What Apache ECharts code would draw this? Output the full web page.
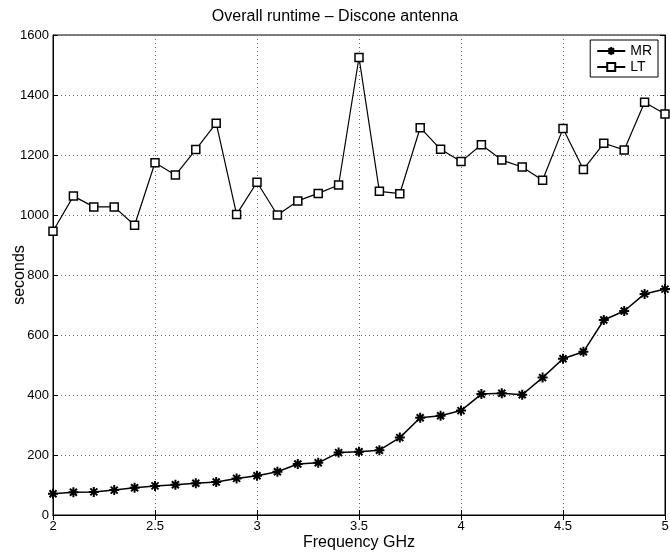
<!DOCTYPE html>
<html>
<head>
<meta charset="utf-8">
<script src="https://cdn.jsdelivr.net/npm/echarts@6/dist/echarts.min.js"></script>
<style>html,body{margin:0;padding:0;background:#fff;}#c{width:670px;height:554px;}</style>
</head>
<body>
<div id="c"></div>
<script>
var freq = [2.0,2.1,2.2,2.3,2.4,2.5,2.6,2.7,2.8,2.9,3.0,3.1,3.2,3.3,3.4,3.5,3.6,3.7,3.8,3.9,4.0,4.1,4.2,4.3,4.4,4.5,4.6,4.7,4.8,4.9,5.0];
var mrValues = [71,76,77,83,91,97,101,106,110,122,131,144,170,174,208,211,216,258,324,331,348,403,406,401,458,521,544,650,680,737,753];
var ltValues = [946,1063,1027,1027,966,1174,1133,1218,1306,1002,1109,1000,1047,1072,1100,1525,1079,1071,1291,1219,1178,1234,1183,1160,1116,1288,1152,1239,1217,1376,1337];
var seriesNames = ['MR','LT'];
var titleText = 'Overall runtime \u2013 Discone antenna';
var xName = 'Frequency GHz';
var yName = 'seconds';

function pairs(v){ return freq.map(function(f,i){ return [f, v[i]]; }); }
var asterisk = 'path://M5,0L5,10M0,5L10,5M1.5,1.5L8.5,8.5M1.5,8.5L8.5,1.5';
var font = 'Liberation Sans';
var split = {show:true, lineStyle:{color:'#666', type:[1,3], width:1}};
function plain(v){ return String(v); }

var chart = echarts.init(document.getElementById('c'), null, {renderer:'canvas'});
chart.setOption({
  animation:false,
  backgroundColor:'#fff',
  title:{text:titleText, left:'center', top:4, textStyle:{fontFamily:font, fontSize:16, fontWeight:'normal', color:'#000'}},
  grid:{left:53, right:5, top:35, bottom:39, show:true, borderColor:'#000', borderWidth:1, backgroundColor:'#fff', containLabel:false, outerBoundsMode:'none'},
  legend:{
    orient:'vertical', right:12, top:40, data:seriesNames,
    backgroundColor:'#fff', borderColor:'#000', borderWidth:1, padding:[4,6,3,6],
    itemGap:2, itemWidth:28, itemHeight:10,
    textStyle:{fontFamily:font, fontSize:14, color:'#000'}
  },
  xAxis:[{
    type:'value', min:2, max:5, interval:0.5,
    name:xName, nameLocation:'middle', nameGap:20, nameMoveOverlap:false,
    nameTextStyle:{fontFamily:font, fontSize:16, color:'#000'},
    axisLine:{lineStyle:{color:'#000'}},
    axisTick:{inside:true, length:5, lineStyle:{color:'#000'}},
    axisLabel:{fontFamily:font, fontSize:13, color:'#000', margin:5, formatter:plain},
    splitLine:split
  },{
    type:'value', min:2, max:5, interval:0.5, position:'top',
    axisLine:{lineStyle:{color:'#000'}},
    axisTick:{inside:true, length:5, lineStyle:{color:'#000'}},
    axisLabel:{show:false}, splitLine:{show:false}
  }],
  yAxis:[{
    type:'value', min:0, max:1600, interval:200,
    name:yName, nameLocation:'middle', nameGap:25, nameMoveOverlap:false,
    nameTextStyle:{fontFamily:font, fontSize:16, color:'#000'},
    axisLine:{lineStyle:{color:'#000'}},
    axisTick:{inside:true, length:5, lineStyle:{color:'#000'}},
    axisLabel:{fontFamily:font, fontSize:13, color:'#000', margin:4, formatter:plain},
    splitLine:split
  },{
    type:'value', min:0, max:1600, interval:200, position:'right',
    axisLine:{show:true, lineStyle:{color:'#000'}},
    axisTick:{show:true, inside:true, length:5, lineStyle:{color:'#000'}},
    axisLabel:{show:false}, splitLine:{show:false}
  }],
  series:[{
    name:seriesNames[0], type:'line', data:pairs(mrValues),
    symbol:asterisk, symbolSize:10, symbolKeepAspect:true,
    lineStyle:{color:'#000', width:1.5},
    itemStyle:{color:'#000', borderColor:'#000', borderWidth:2}
  },{
    name:seriesNames[1], type:'line', data:pairs(ltValues),
    symbol:'rect', symbolSize:8,
    lineStyle:{color:'#000', width:1.2},
    itemStyle:{color:'#fff', borderColor:'#000', borderWidth:1.5}
  }]
});
</script>
</body>
</html>
